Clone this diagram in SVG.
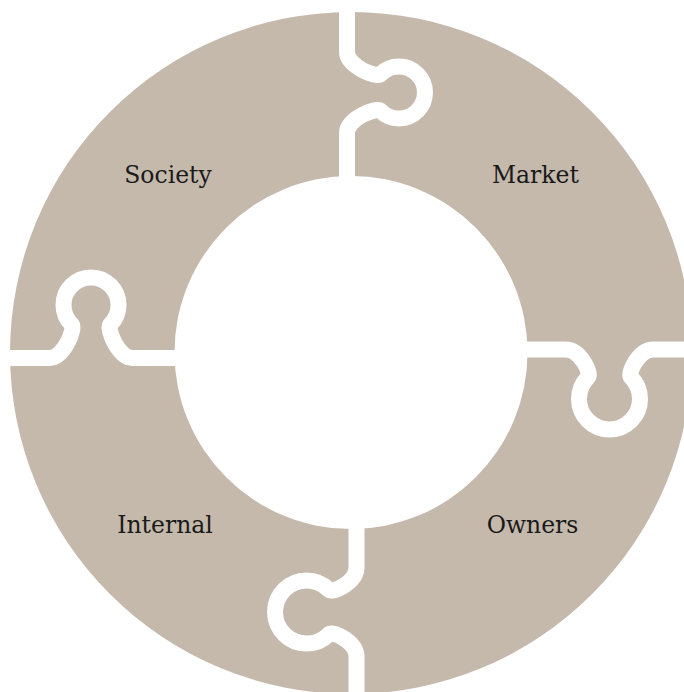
<svg xmlns="http://www.w3.org/2000/svg" width="684" height="692" viewBox="0 0 684 692">
<style>
.ring{fill:#c5b9ac}
.cut{fill:none;stroke:#ffffff;stroke-width:16;stroke-linejoin:round}
.label{font-family:"DejaVu Serif","Liberation Serif",serif;font-size:23.5px;fill:#1a1a1a;text-anchor:middle}
</style>
<rect width="684" height="692" fill="#ffffff"/>
<g id="ring">
<path class="ring" fill-rule="evenodd" d="M 10 353 A 341 341 0 1 0 692 353 A 341 341 0 1 0 10 353 Z M 174.5 352.5 A 176.5 176.5 0 1 0 527.5 352.5 A 176.5 176.5 0 1 0 174.5 352.5 Z"/>
</g>
<g id="connectors">
<path id="cut-top" class="cut" transform="translate(347,92.5) rotate(90)" d="M -130 0 L -40.4 0 C -26.4 0 -14.2 -29.4 -18.4 -33.6 A 26 26 0 1 1 18.4 -33.6 C 14.2 -29.4 26.4 0 40.4 0 L 130 0"/>
<path id="cut-left" class="cut" transform="translate(91,358)" d="M -130 0 L -41.4 0 C -27.4 0 -15.2 -29.4 -19.4 -33.6 A 27.5 27.5 0 1 1 19.4 -33.6 C 15.2 -29.4 27.4 0 41.4 0 L 130 0"/>
<path id="cut-right" class="cut" transform="translate(609.5,349.5) rotate(180)" d="M -130 0 L -43.6 0 C -29.6 0 -17.4 -23.7 -21.6 -27.9 A 30.5 30.5 0 1 1 21.6 -27.9 C 17.4 -23.7 29.6 0 43.6 0 L 130 0"/>
<path id="cut-bottom" class="cut" transform="translate(356.5,612) rotate(-90)" d="M -130 0 L -44.3 0 C -30.3 0 -18.1 -23.5 -22.3 -27.7 A 31.5 31.5 0 1 1 22.3 -27.7 C 18.1 -23.5 30.3 0 44.3 0 L 130 0"/>
</g>
<g id="society"><text class="label" x="168" y="183">Society</text></g>
<g id="market"><text class="label" x="535.5" y="183">Market</text></g>
<g id="internal"><text class="label" x="165" y="533">Internal</text></g>
<g id="owners"><text class="label" x="532.5" y="533">Owners</text></g>
</svg>
